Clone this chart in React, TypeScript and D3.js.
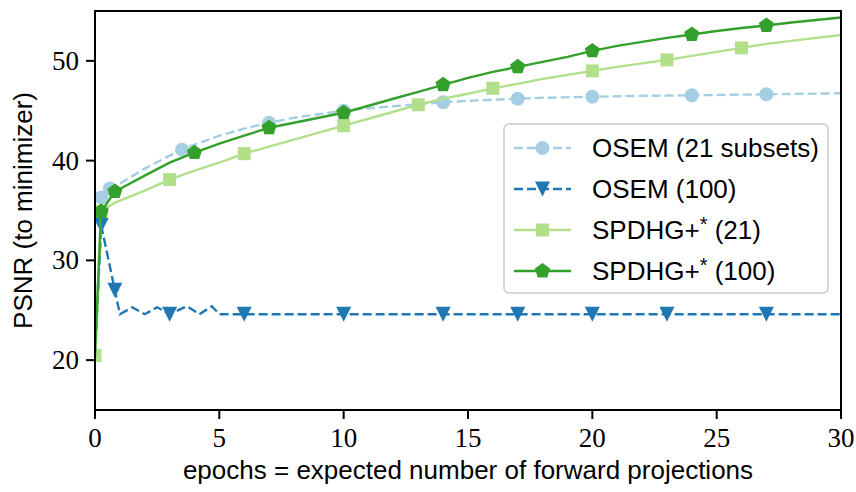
import React from 'react';
import * as d3 from 'd3';

const W = 856;
const H = 492;
const left = 95;
const right = 841;
const top = 11;
const bottom = 410;

const xTicks = [0, 5, 10, 15, 20, 25, 30];
const yTicks = [20, 30, 40, 50];

// OSEM with 21 subsets
const osem21Epochs = [0, 0.25, 0.6, 1, 2, 3, 3.5, 4, 5, 6, 7, 8, 9, 10, 11, 12, 13, 14, 15, 16, 17, 18, 19, 20, 22, 24, 27, 30];
const osem21Psnr = [20.45, 36.3, 37.2, 37.7, 39.2, 40.5, 41.1, 41.6, 42.5, 43.2, 43.8, 44.3, 44.65, 45.0, 45.25, 45.45, 45.65, 45.85, 46.0, 46.1, 46.2, 46.3, 46.35, 46.4, 46.5, 46.55, 46.65, 46.75];
const osem21Marks = [1, 2, 6, 10, 13, 17, 20, 23, 25, 26];

// OSEM with 100 subsets
const osem100Epochs = [0, 0.25, 0.8, 1.0, 1.5, 2.0, 2.5, 3.0, 3.7, 4.2, 4.7, 5.0, 6, 10, 14, 17, 20, 23, 27, 30];
const osem100Psnr = [20.45, 33.5, 27.0, 24.6, 25.3, 24.6, 25.3, 24.6, 25.4, 24.6, 25.4, 24.6, 24.6, 24.6, 24.6, 24.6, 24.6, 24.6, 24.6, 24.6];
const osem100Marks = [1, 2, 7, 12, 13, 14, 15, 16, 17, 18];

// SPDHG+* with 21 subsets
const spdhg21Epochs = [0, 0.25, 0.8, 1.3, 2, 3, 4, 5, 6, 7, 8, 9, 10, 11, 12, 13, 14, 15, 16, 17, 18, 19, 20, 21, 22, 23, 24, 25, 26, 27, 28, 29, 30];
const spdhg21Psnr = [20.45, 34.9, 35.8, 36.3, 37.0, 38.1, 39.0, 39.8, 40.7, 41.4, 42.1, 42.8, 43.5, 44.2, 44.9, 45.6, 46.2, 46.7, 47.25, 47.7, 48.2, 48.6, 49.0, 49.4, 49.75, 50.1, 50.5, 50.9, 51.3, 51.7, 52.0, 52.3, 52.6];
const spdhg21Marks = [0, 1, 5, 8, 12, 15, 18, 22, 25, 28];

// SPDHG+* with 100 subsets
const spdhg100Epochs = [0, 0.25, 0.8, 2, 3, 4, 5, 6, 7, 8, 9, 10, 11, 12, 13, 14, 15, 16, 17, 18, 19, 20, 21, 22, 23, 24, 25, 26, 27, 28, 29, 30];
const spdhg100Psnr = [20.45, 34.9, 36.9, 38.5, 39.8, 40.8, 41.7, 42.5, 43.3, 43.8, 44.3, 44.8, 45.5, 46.2, 46.9, 47.6, 48.3, 48.9, 49.4, 49.9, 50.4, 51.0, 51.5, 51.9, 52.3, 52.65, 53.0, 53.3, 53.55, 53.85, 54.1, 54.35];
const spdhg100Marks = [1, 2, 5, 8, 11, 15, 18, 21, 25, 28];

const seriesNames = ['OSEM (21 subsets)', 'OSEM (100)', 'SPDHG+* (21)', 'SPDHG+* (100)'];

const x = d3.scaleLinear().domain([0, 30]).range([left, right]);
const y = d3.scaleLinear().domain([15, 55]).range([bottom, top]);

const serif = '"Liberation Serif", "Times New Roman", serif';
const sans = '"Liberation Sans", Arial, sans-serif';

// matplotlib-like marker shapes
const pentagon = {
  draw(ctx: any, size: number) {
    const r = Math.sqrt(size);
    for (let i = 0; i < 5; i++) {
      const a = -Math.PI / 2 + (i * 2 * Math.PI) / 5;
      const px = r * Math.cos(a);
      const py = r * Math.sin(a);
      if (i === 0) ctx.moveTo(px, py);
      else ctx.lineTo(px, py);
    }
    ctx.closePath();
  }
};
const triangleDown = {
  draw(ctx: any, size: number) {
    const h = Math.sqrt(size) / 2;
    ctx.moveTo(0, h);
    ctx.lineTo(-h, -h);
    ctx.lineTo(h, -h);
    ctx.closePath();
  }
};
const square = {
  draw(ctx: any, size: number) {
    const h = Math.sqrt(size) / 2;
    ctx.rect(-h, -h, 2 * h, 2 * h);
  }
};

const series = [
  { name: seriesNames[0], xs: osem21Epochs, ys: osem21Psnr, marks: osem21Marks, color: '#a6cee3', dash: '9,4', symbol: d3.symbolCircle, size: Math.PI * 49 },
  { name: seriesNames[1], xs: osem100Epochs, ys: osem100Psnr, marks: osem100Marks, color: '#1f78b4', dash: '9,4', symbol: triangleDown, size: 225 },
  { name: seriesNames[2], xs: spdhg21Epochs, ys: spdhg21Psnr, marks: spdhg21Marks, color: '#b2df8a', dash: undefined, symbol: square, size: 169 },
  { name: seriesNames[3], xs: spdhg100Epochs, ys: spdhg100Psnr, marks: spdhg100Marks, color: '#33a02c', dash: undefined, symbol: pentagon, size: 64 }
];

const line = d3
  .line<number>()
  .x((d: any) => x(d[0]))
  .y((d: any) => y(d[1]));

function Label({ text, ...rest }: any) {
  // "+*" gets the star as a superscript
  const parts = text.split('*');
  if (parts.length === 1) return <text {...rest}>{text}</text>;
  return (
    <text {...rest}>
      {parts[0]}
      <tspan dy={-8} fontSize={20}>*</tspan>
      <tspan dy={8}>{parts[1]}</tspan>
    </text>
  );
}

export default function App() {
  const rowY = [148, 189, 230, 271];
  return (
    <svg
      width={W}
      height={H}
      style={{ position: 'absolute', left: 0, top: 0, display: 'block', background: 'white' }}
    >
      <defs>
        <clipPath id="plot">
          <rect x={left} y={top} width={right - left} height={bottom - top} />
        </clipPath>
      </defs>

      <g clipPath="url(#plot)">
        {series.map(s => {
          const pts = s.xs.map((v, i) => [v, s.ys[i]]);
          return (
            <g key={s.name}>
              <path
                d={line(pts as any) || ''}
                fill="none"
                stroke={s.color}
                strokeWidth={2.4}
                strokeDasharray={s.dash}
              />
              {s.marks.map(i => (
                <path
                  key={i}
                  transform={`translate(${x(s.xs[i])},${y(s.ys[i])})`}
                  d={d3.symbol().type(s.symbol as any).size(s.size)() || ''}
                  fill={s.color}
                />
              ))}
            </g>
          );
        })}
      </g>

      {/* spines */}
      <rect x={left} y={top} width={right - left} height={bottom - top} fill="none" stroke="black" strokeWidth={2} />

      {/* x axis */}
      {xTicks.map(t => (
        <g key={t}>
          <line x1={x(t)} x2={x(t)} y1={bottom} y2={bottom + 9} stroke="black" strokeWidth={2} />
          <text x={x(t)} y={447} textAnchor="middle" fontFamily={serif} fontSize={27}>{t}</text>
        </g>
      ))}
      <text x={(left + right) / 2} y={479} textAnchor="middle" fontFamily={sans} fontSize={26}>
        epochs = expected number of forward projections
      </text>

      {/* y axis */}
      {yTicks.map(t => (
        <g key={t}>
          <line x1={left - 9} x2={left} y1={y(t)} y2={y(t)} stroke="black" strokeWidth={2} />
          <text x={79} y={y(t) + 9} textAnchor="end" fontFamily={serif} fontSize={27}>{t}</text>
        </g>
      ))}
      <text
        transform={`translate(32,${(top + bottom) / 2}) rotate(-90)`}
        textAnchor="middle"
        fontFamily={sans}
        fontSize={26}
      >
        PSNR (to minimizer)
      </text>

      {/* legend */}
      <rect x={504} y={124} width={324} height={169} rx={5} fill="white" fillOpacity={0.8} stroke="#cccccc" strokeWidth={1.5} />
      {series.map((s, i) => (
        <g key={s.name}>
          <line x1={514} x2={571} y1={rowY[i]} y2={rowY[i]} stroke={s.color} strokeWidth={2.4} strokeDasharray={s.dash} />
          <path
            transform={`translate(542.5,${rowY[i]})`}
            d={d3.symbol().type(s.symbol as any).size(s.size)() || ''}
            fill={s.color}
          />
          <Label text={s.name} x={592} y={rowY[i] + 9} fontFamily={sans} fontSize={26} />
        </g>
      ))}
    </svg>
  );
}
